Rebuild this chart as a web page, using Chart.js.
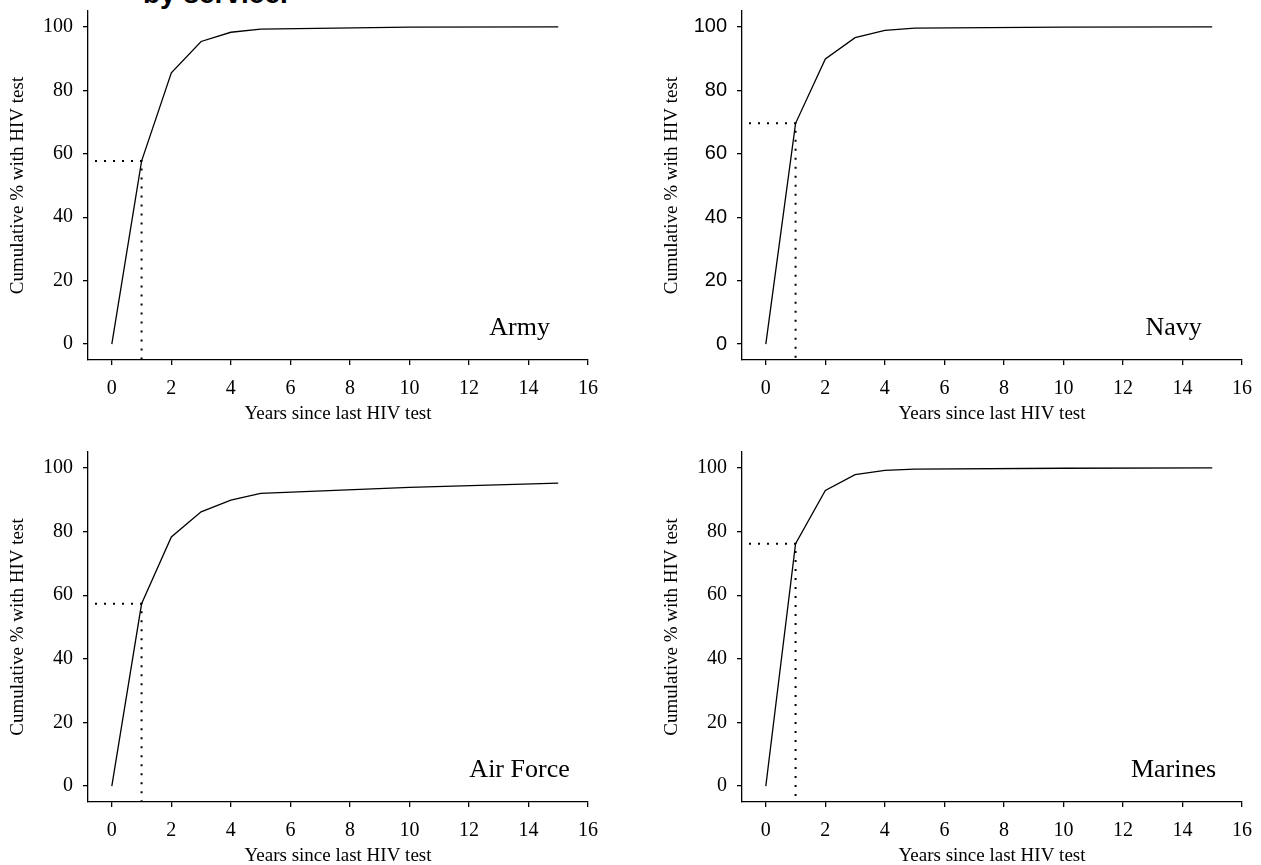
<!DOCTYPE html>
<html>
<head>
<meta charset="utf-8">
<title>Years since last HIV test, by service</title>
<script src="https://cdn.jsdelivr.net/npm/chart.js@4.4.1/dist/chart.umd.min.js"></script>
<style>
  body { margin: 0; width: 1261px; height: 865px; overflow: hidden; background: #fff; position: relative; }
  #heading { position: absolute; left: 143px; top: -20px; font: bold 28px "Liberation Sans", Arial, sans-serif; line-height: 28px; white-space: nowrap; color: #000; }
  canvas { position: absolute; }
</style>
</head>
<body>
<div id="heading">by service.</div>
<canvas id="army" width="654" height="432" style="left:0px;top:0px"></canvas>
<canvas id="navy" width="607" height="432" style="left:654px;top:0px"></canvas>
<canvas id="airforce" width="654" height="433" style="left:0px;top:441px"></canvas>
<canvas id="marines" width="607" height="433" style="left:654px;top:441px"></canvas>
<script>
let years = [0, 1, 2, 3, 4, 5, 10, 15];
let armyPct = [0, 57.7, 85.5, 95.4, 98.3, 99.3, 99.9, 100];
let navyPct = [0, 69.6, 89.9, 96.6, 98.9, 99.6, 99.9, 100];
let airForcePct = [0, 57.3, 78.3, 86.2, 89.9, 92.0, 93.9, 95.2];
let marinesPct = [0, 76.2, 92.9, 97.9, 99.2, 99.6, 99.9, 100];
let xTicks = [0, 2, 4, 6, 8, 10, 12, 14, 16];
let yTicks = [0, 20, 40, 60, 80, 100];

const serif = '"Liberation Serif", "Times New Roman", serif';
const sans = '"Liberation Sans", Arial, sans-serif';
const xMin = -0.8;
const yMin = -5;

// service name written inside the plot, bottom right
const panelName = {
  id: 'panelName',
  afterDatasetsDraw(chart, args, opts) {
    let ctx = chart.ctx;
    ctx.save();
    ctx.font = `26px ${serif}`;
    ctx.fillStyle = '#000';
    ctx.textAlign = 'center';
    ctx.textBaseline = 'middle';
    ctx.fillText(opts.text, chart.scales.x.getPixelForValue(13.7), chart.scales.y.getPixelForValue(5));
    ctx.restore();
  }
};

function drawPanel(id, name, pct, tickFamily, rightPad) {
  let points = years.map((x, i) => ({ x: x, y: pct[i] }));
  // dotted guide to the 1-year value
  let oneYear = pct[years.indexOf(1)];
  let guide = [{ x: xMin, y: oneYear }, { x: 1, y: oneYear }, { x: 1, y: yMin }];

  new Chart(document.getElementById(id), {
    type: 'line',
    data: {
      datasets: [
        { data: points, borderColor: '#000', borderWidth: 1.3, pointRadius: 0, tension: 0, fill: false },
        { data: guide, borderColor: '#000', borderWidth: 2, borderDash: [2, 7], borderDashOffset: 2, pointRadius: 0, tension: 0, fill: false }
      ]
    },
    options: {
      responsive: false,
      animation: false,
      devicePixelRatio: 1,
      layout: { padding: { top: 11, right: rightPad, bottom: 0, left: 0 } },
      plugins: {
        legend: { display: false },
        tooltip: { enabled: false },
        panelName: { text: name }
      },
      scales: {
        x: {
          type: 'linear',
          min: xMin,
          max: 16,
          afterBuildTicks: s => { s.ticks = xTicks.map(v => ({ value: v })); },
          afterFit: s => { s.height = 72; s.paddingLeft = 0; s.paddingRight = 0; },
          grid: { drawOnChartArea: false, drawTicks: true, tickLength: 5, color: '#000', lineWidth: 1.3 },
          border: { display: true, color: '#000', width: 1.3 },
          ticks: { color: '#000', font: { family: serif, size: 20 }, padding: 12, maxRotation: 0, autoSkip: false },
          title: { display: true, text: 'Years since last HIV test', color: '#000', font: { family: serif, size: 19 }, padding: { top: 0, bottom: 7 } }
        },
        y: {
          type: 'linear',
          min: yMin,
          max: 105,
          afterBuildTicks: s => { s.ticks = yTicks.map(v => ({ value: v })); },
          afterFit: s => { s.width = 88; s.paddingTop = 0; s.paddingBottom = 0; },
          grid: { drawOnChartArea: false, drawTicks: true, tickLength: 5, color: '#000', lineWidth: 1.3 },
          border: { display: true, color: '#000', width: 1.3 },
          ticks: { color: '#000', font: { family: tickFamily, size: 20 }, padding: 10 },
          title: { display: true, text: 'Cumulative % with HIV test', color: '#000', font: { family: serif, size: 19 }, padding: { top: 7, bottom: 0 } }
        }
      }
    },
    plugins: [panelName]
  });
}

drawPanel('army', 'Army', armyPct, serif, 66);
drawPanel('navy', 'Navy', navyPct, sans, 19);
drawPanel('airforce', 'Air Force', airForcePct, serif, 66);
drawPanel('marines', 'Marines', marinesPct, serif, 19);
</script>
</body>
</html>
